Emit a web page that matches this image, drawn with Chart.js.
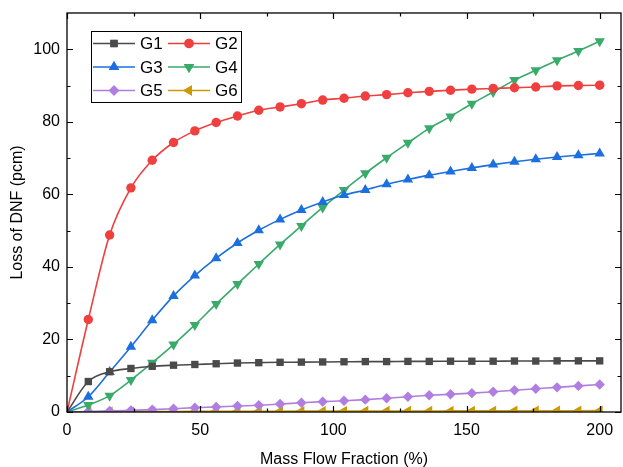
<!DOCTYPE html>
<html>
<head>
<meta charset="utf-8">
<script src="https://cdn.jsdelivr.net/npm/chart.js@4"></script>
<style>
  html, body { margin: 0; padding: 0; background: #ffffff; }
  #wrap { width: 623px; height: 467px; }
</style>
</head>
<body>
<div id="wrap"><canvas id="c" width="623" height="467"></canvas></div>
<script>
// ---- data ----
const massFlow = [0, 8, 16, 24, 32, 40, 48, 56, 64, 72, 80, 88, 96, 104, 112, 120, 128, 136, 144, 152, 160, 168, 176, 184, 192, 200];
const g1 = [0, 8.4, 11.1, 12.0, 12.6, 12.9, 13.1, 13.3, 13.5, 13.6, 13.7, 13.75, 13.8, 13.85, 13.9, 13.9, 13.95, 13.95, 14.0, 14.0, 14.0, 14.05, 14.05, 14.1, 14.1, 14.1];
const g2 = [0, 25.5, 48.8, 61.8, 69.4, 74.3, 77.5, 79.8, 81.6, 83.2, 84.1, 85.0, 86.0, 86.5, 87.1, 87.5, 88.0, 88.4, 88.7, 89.0, 89.2, 89.4, 89.6, 89.9, 90.0, 90.1];
const g3 = [0, 4.2, 11.0, 18.0, 25.3, 32.0, 37.6, 42.4, 46.6, 50.1, 53.1, 55.7, 57.9, 59.8, 61.2, 62.8, 64.1, 65.3, 66.3, 67.3, 68.2, 69.0, 69.7, 70.3, 70.8, 71.3];
const g4 = [0, 1.9, 4.5, 8.8, 13.6, 18.6, 24.0, 29.8, 35.3, 40.8, 46.2, 51.3, 56.4, 61.2, 65.8, 70.1, 74.2, 78.2, 81.5, 85.0, 88.2, 91.5, 94.2, 97.0, 99.5, 102.2];
const g5 = [0, 0.15, 0.3, 0.45, 0.65, 0.9, 1.2, 1.4, 1.65, 1.85, 2.2, 2.55, 2.85, 3.1, 3.4, 3.8, 4.2, 4.6, 4.9, 5.2, 5.6, 6.0, 6.4, 6.8, 7.2, 7.6];
const g6 = [0, 0.05, 0.08, 0.1, 0.12, 0.14, 0.16, 0.18, 0.2, 0.21, 0.22, 0.23, 0.24, 0.25, 0.26, 0.27, 0.28, 0.29, 0.3, 0.31, 0.32, 0.33, 0.34, 0.35, 0.36, 0.37];
const seriesNames = ['G1', 'G2', 'G3', 'G4', 'G5', 'G6'];
const xTicks = [0, 50, 100, 150, 200];
const yTicks = [0, 20, 40, 60, 80, 100];
const xMinorTicks = [25, 75, 125, 175];
const yMinorTicks = [10, 30, 50, 70, 90];

// ---- styles ----
const styles = [
  { color: '#4a4a4a', point: 'rect', radius: 5.2, rotation: 0 },
  { color: '#ef3f3f', point: 'circle', radius: 4.7, rotation: 0 },
  { color: '#1c6fde', point: 'triangle', radius: 6, rotation: 0 },
  { color: '#38aa6a', point: 'triangle', radius: 6, rotation: 180 },
  { color: '#b07de0', point: 'rectRot', radius: 5.2, rotation: 0 },
  { color: '#cc9a05', point: 'triangle', radius: 6, rotation: -90 }
];
const allSeries = [g1, g2, g3, g4, g5, g6];

const datasets = allSeries.map((vals, i) => ({
  label: seriesNames[i],
  data: vals.map((v, j) => ({ x: massFlow[j], y: v })),
  borderColor: styles[i].color,
  backgroundColor: styles[i].color,
  borderWidth: 1.6,
  pointStyle: styles[i].point,
  pointRadius: vals.map((v, j) => j === 0 ? 0 : styles[i].radius),
  pointRotation: styles[i].rotation,
  pointBorderWidth: 0,
  pointBackgroundColor: styles[i].color,
  tension: 0.4,
  cubicInterpolationMode: 'monotone',
  fill: false
}));

const FONT = '"Liberation Sans", Arial, sans-serif';

const framePlugin = {
  id: 'frameAndLegend',
  afterDatasetsDraw(chart) {
    const { ctx, chartArea: a, scales } = chart;
    const xs = scales.x, ys = scales.y;
    ctx.save();
    ctx.strokeStyle = '#000';
    ctx.lineWidth = 1.3;
    ctx.strokeRect(a.left, a.top, a.right - a.left, a.bottom - a.top);
    const major = 6, minor = 3.5;
    ctx.lineWidth = 1.2;
    ctx.beginPath();
    xTicks.forEach(t => {
      const px = Math.round(xs.getPixelForValue(t)) + 0.5;
      ctx.moveTo(px, a.bottom); ctx.lineTo(px, a.bottom - major);
      ctx.moveTo(px, a.top); ctx.lineTo(px, a.top + major);
    });
    xMinorTicks.forEach(t => {
      const px = Math.round(xs.getPixelForValue(t)) + 0.5;
      ctx.moveTo(px, a.bottom); ctx.lineTo(px, a.bottom - minor);
      ctx.moveTo(px, a.top); ctx.lineTo(px, a.top + minor);
    });
    yTicks.forEach(t => {
      const py = Math.round(ys.getPixelForValue(t)) + 0.5;
      ctx.moveTo(a.left, py); ctx.lineTo(a.left + major, py);
      ctx.moveTo(a.right, py); ctx.lineTo(a.right - major, py);
    });
    yMinorTicks.forEach(t => {
      const py = Math.round(ys.getPixelForValue(t)) + 0.5;
      ctx.moveTo(a.left, py); ctx.lineTo(a.left + minor, py);
      ctx.moveTo(a.right, py); ctx.lineTo(a.right - minor, py);
    });
    ctx.stroke();

    // legend inside plot
    const bx = 91.5, by = 31.5, bw = 150, bh = 71;
    ctx.fillStyle = '#fff';
    ctx.fillRect(bx, by, bw, bh);
    ctx.lineWidth = 1;
    ctx.strokeStyle = '#000';
    ctx.strokeRect(bx, by, bw, bh);
    const rowY = [43.5, 67, 90.5];
    const colX = [93, 168];
    ctx.font = '17px ' + FONT;
    ctx.textBaseline = 'middle';
    ctx.textAlign = 'left';
    seriesNames.forEach((name, i) => {
      const col = i % 2, row = Math.floor(i / 2);
      const x0 = colX[col], y0 = rowY[row];
      const s = styles[i];
      ctx.strokeStyle = s.color;
      ctx.lineWidth = 1.6;
      ctx.beginPath();
      ctx.moveTo(x0, y0); ctx.lineTo(x0 + 42, y0);
      ctx.stroke();
      ctx.fillStyle = s.color;
      Chart.helpers.drawPoint(ctx, { pointStyle: s.point, radius: s.radius, rotation: s.rotation, borderWidth: 0 }, x0 + 21, y0);
      ctx.fill();
      ctx.fillStyle = '#000';
      ctx.fillText(name, x0 + 47, y0 + 1);
    });
    ctx.restore();
  }
};

new Chart(document.getElementById('c'), {
  type: 'line',
  data: { datasets },
  options: {
    responsive: false,
    animation: false,
    devicePixelRatio: 1,
    layout: { autoPadding: false, padding: { top: 13, right: 2, left: 0, bottom: 0 } },
    plugins: { legend: { display: false }, tooltip: { enabled: false } },
    scales: {
      x: {
        type: 'linear',
        min: 0,
        max: 208,
        grid: { display: false, drawTicks: false },
        border: { display: false },
        afterBuildTicks: s => { s.ticks = xTicks.map(v => ({ value: v })); },
        afterFit: s => { s.height = 55; s.paddingLeft = 0; s.paddingRight = 0; },
        ticks: { color: '#000', font: { family: FONT, size: 16 }, padding: 9, maxRotation: 0 },
        title: { display: true, text: 'Mass Flow Fraction (%)', color: '#000', font: { family: FONT, size: 16 }, padding: { top: 0, bottom: -2 } }
      },
      y: {
        type: 'linear',
        min: 0,
        max: 110,
        grid: { display: false, drawTicks: false },
        border: { display: false },
        afterBuildTicks: s => { s.ticks = yTicks.map(v => ({ value: v })); },
        afterFit: s => { s.width = 67; s.paddingTop = 0; s.paddingBottom = 0; },
        ticks: { color: '#000', font: { family: FONT, size: 16 }, padding: 7 },
        title: { display: true, text: 'Loss of DNF (pcm)', color: '#000', font: { family: FONT, size: 16 }, padding: { top: 8, bottom: 0 } }
      }
    }
  },
  plugins: [framePlugin]
});
</script>
</body>
</html>
